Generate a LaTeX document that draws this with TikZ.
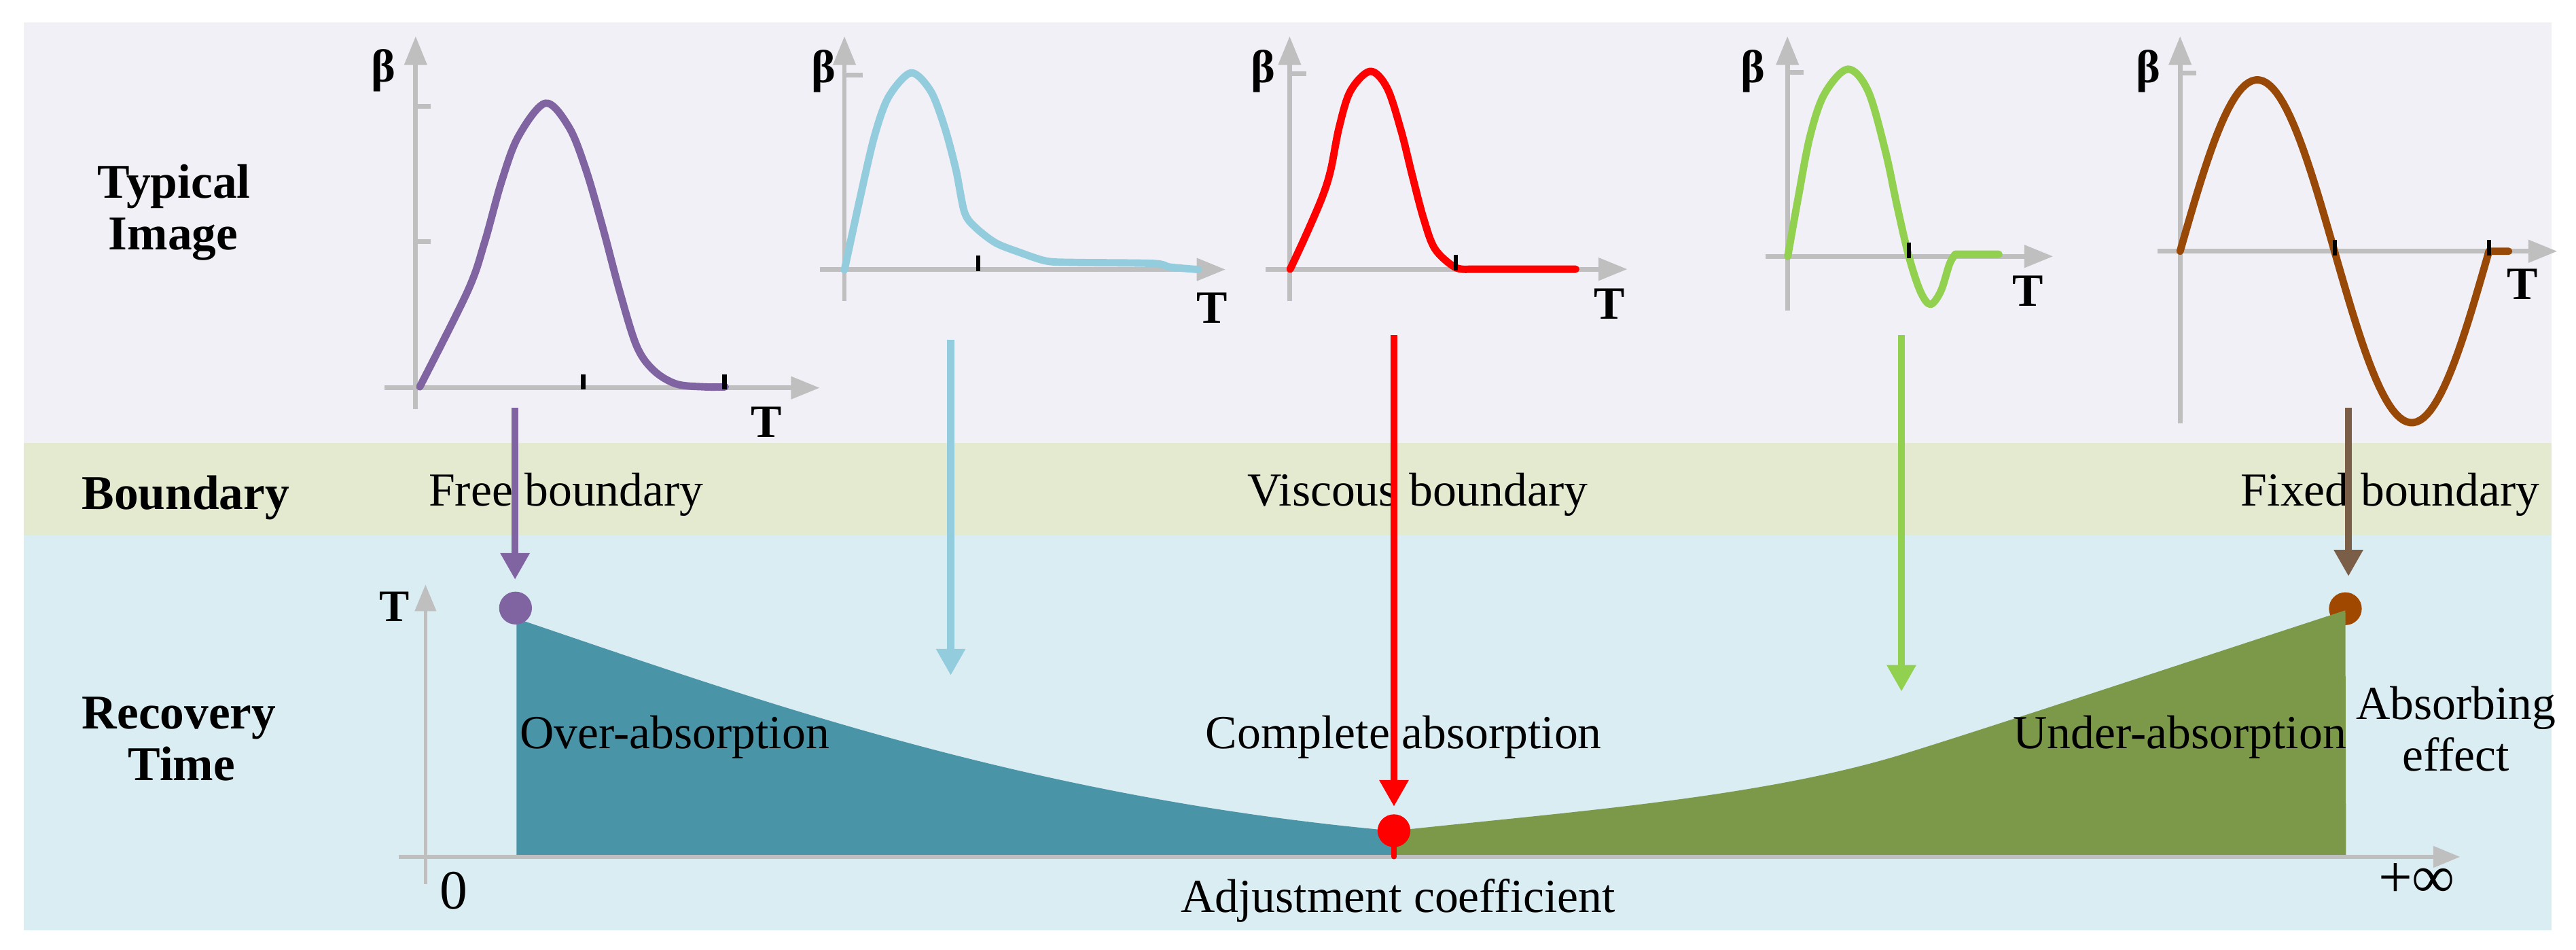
\documentclass[tikz,border=0pt]{standalone}
\usepackage{fontspec}
\setmainfont{Liberation Serif}
\usetikzlibrary{arrows.meta}
\definecolor{bgtop}{RGB}{242,240,247}
\definecolor{bgmid}{RGB}{228,234,208}
\definecolor{bgbot}{RGB}{218,237,243}
\definecolor{axgray}{RGB}{191,191,191}
\definecolor{cpurple}{RGB}{128,100,162}
\definecolor{cblue}{RGB}{147,205,221}
\definecolor{cred}{RGB}{255,0,0}
\definecolor{cgreen}{RGB}{146,208,80}
\definecolor{cbrown}{RGB}{152,72,7}
\definecolor{cbrownarr}{RGB}{122,94,72}
\definecolor{cbrowndot}{RGB}{160,72,0}
\definecolor{cteal}{RGB}{74,148,168}
\definecolor{colive}{RGB}{124,153,74}
\begin{document}
\begin{tikzpicture}[x=0.025cm,y=-0.025cm,
  gax/.style={draw=axgray,line width=2pt,-{Triangle[length=12.5pt,width=9.5pt]}},
  bax/.style={draw=axgray,line width=1.6pt,-{Triangle[length=11.5pt,width=9pt]}},
  gtick/.style={draw=axgray,line width=2pt},
  btick/.style={draw=black,line width=1.8pt},
  curve/.style={line width=3.2pt,line cap=round,line join=round},
  conn/.style={line width=3pt,-{Triangle[length=11.5pt,width=12pt]}},
  dot/.style={circle,minimum size=14.2pt,inner sep=0pt},
  lbl/.style={font=\fontsize{21}{22.5}\selectfont\bfseries,inner sep=0pt,anchor=base},
  txt/.style={font=\fontsize{20.5}{22.5}\selectfont,inner sep=0pt,anchor=base},
  axl/.style={font=\fontsize{20}{22}\selectfont\bfseries,inner sep=0pt},
]
\useasboundingbox (0,0) rectangle (1568,578);
% background bands
\fill[bgtop] (14.5,13.8) rectangle (1553,269.5);
\fill[bgmid] (14.5,269.5) rectangle (1553,326);
\fill[bgbot] (14.5,326) rectangle (1553,566);

% ---------- plot 1 (purple) ----------
\draw[gax] (253,249) -- (253,22);
\draw[gax] (234,236) -- (499,236);
\draw[gtick] (253,64.6) -- (262,64.6);
\draw[gtick] (253,147) -- (262,147);
\draw[curve,cpurple] plot[smooth,tension=0.55] coordinates {
 (255.5,235.4) (284.6,177.3) (294.9,147.7) (305.2,110.8) (315.5,83.1) (332,62.8)
 (346.4,77.5) (356.7,103.4) (366.9,138.5) (377.2,177.3) (387.5,210.5) (397.8,225.3)
 (411.5,233.6) (428.7,235.4) (441.4,235.4)};
\draw[btick] (355,228) -- (355,237);
\draw[btick] (441,228) -- (441,237);
\node[axl] (b1) at (233.2,43) {β};
\node[axl] (t1) at (466.4,256.7) {T};

% ---------- plot 2 (light blue) ----------
\draw[gax] (514,183) -- (514,22);
\draw[gax] (499,164) -- (746,164);
\draw[gtick] (514,45.6) -- (525,45.6);
\draw[curve,cblue] plot[smooth,tension=0.5] coordinates {
 (514.0,164.3) (523.6,120.0) (532.2,83.1) (540.8,59.1) (554.5,44.3) (566.5,55.4)
 (575.0,77.5) (581.9,103.4) (587.1,129.2) (593.9,138.5) (605.9,147.7) (619.6,153.2)
 (636.8,158.8) (653.9,159.7) (701.9,160.3) (712.2,162.5) (729.4,164)};
\draw[btick] (595.6,155.5) -- (595.6,165);
\node[axl] (b2) at (501.3,43.4) {β};
\node[axl] (t2) at (737.9,187.4) {T};

% ---------- plot 3 (red) ----------
\draw[gax] (785,183) -- (785,22);
\draw[gax] (770.5,163.8) -- (990.6,163.8);
\draw[gtick] (785,45) -- (795,45);
\draw[curve,cred] plot[smooth,tension=0.55] coordinates {
 (785.3,163.8) (794.5,144.0) (804.8,120.0) (810.0,103.4) (815.1,77.5) (822.0,55.4)
 (834.0,43.4) (844.3,53.5) (852.8,79.4) (859.7,107.1) (866.5,132.9) (873.4,151.4)
 (885.4,162.5) (894.0,163.8)} -- (959.1,163.8);
\draw[btick] (886,155) -- (886,164.5);
\node[axl] (b3) at (768.8,43.4) {β};
\node[axl] (t3) at (979.7,185) {T};

% ---------- plot 4 (green) ----------
\draw[gax] (1088,189) -- (1088,22);
\draw[gax] (1074.5,156) -- (1249.7,156);
\draw[gtick] (1088,44) -- (1098,44);
\draw[curve,cgreen] plot[smooth,tension=0.55] coordinates {
 (1088.2,156.0) (1094.6,120.0) (1101.7,83.1) (1110.5,57.2) (1124.7,42.1) (1137.1,55.4)
 (1147.7,92.3) (1154.8,125.6) (1161.9,156.0) (1168.9,177.3) (1175.0,185.2) (1181.3,177.3)
 (1186.7,160.6) (1190.2,154.7)} -- (1216.7,154.7);
\draw[btick] (1162,147.6) -- (1162,157);
\node[axl] (b4) at (1067,43.4) {β};
\node[axl] (t4) at (1234.5,177.2) {T};

% ---------- plot 5 (brown) ----------
\draw[gax] (1327,257.6) -- (1327,22);
\draw[gax] (1313.4,152.9) -- (1556.6,152.9);
\draw[gtick] (1327,44.3) -- (1337,44.3);
\draw[curve,cbrown] plot[domain=0:360,samples=91] ({1327+0.52222*\x},{152.9-104.3*sin(\x)}) -- (1527,152.9);
\draw[btick] (1421.3,146) -- (1421.3,155.4);
\draw[btick] (1515,146) -- (1515,155.4);
\node[axl] (b5) at (1307.7,43.4) {β};
\node[axl] (t5) at (1535.3,173) {T};

% ---------- recovery time chart ----------
\node[dot,fill=cbrowndot] (dF) at (1427.6,370.4) {};
\fill[cteal] (314.4,521.4) -- (314.4,376.4)
  .. controls (450,422) and (620,485) .. (848.4,505.6)
  -- (848.4,521.4) -- cycle;
\fill[colive] (848.4,521.4) -- (848.4,505.6)
  .. controls (950,494.4) and (1070,486) .. (1158,459)
  .. controls (1210,443) and (1340,400) .. (1427.6,371.4)
  -- (1428,521.4) -- cycle;
\coordinate (O) at (259,521.4);
\draw[bax] (259,538) -- (259,355.7);
\draw[bax] (242.8,521.4) -- (1497.4,521.4);
\node[dot,fill=cpurple] (dA) at (313.8,370) {};
\node[dot,fill=cred] (dV) at (848.5,505.5) {};
\draw[cred,line width=2.1pt,line cap=round] (dV.center) -- (dV |- O);

% ---------- row labels ----------
\node[lbl] (typ1) at (106,120.6) {Typical};
\node[lbl] (typ2) at (105.5,151.8) {Image};
\node[lbl] (bnd) at (113,310) {Boundary};
\node[lbl] (rec1) at (109,443.5) {Recovery};
\node[lbl] (rec2) at (110.6,475) {Time};

% ---------- texts ----------
\node[txt] (free) at (344.6,307.7) {Free boundary};
\node[txt] (visc) at (863,307.7) {Viscous boundary};
\node[txt] (fixd) at (1455,307.7) {Fixed boundary};
\node[txt] (over) at (410.7,455.3) {Over-absorption};
\node[txt] (comp) at (854.4,455.3) {Complete absorption};
\node[txt] (undr) at (1326.8,455.3) {Under-absorption};
\node[txt] (abs1) at (1495,437.5) {Absorbing};
\node[txt] (abs2) at (1495,469) {effect};
\node[txt] (adj) at (851,555) {Adjustment coefficient};
\node[txt,font=\fontsize{24}{24}\selectfont] (zero) at (276,553) {0};
\node[txt,font=\fontsize{26}{26}\selectfont] (pinf) at (1471,546) {+∞};
\node[lbl,font=\fontsize{19.5}{22}\selectfont\bfseries] (tT) at (240,378.3) {T};

% ---------- connectors ----------
\coordinate (sA) at (313.5,248);   \coordinate (eA) at (313.5,352.7);
\coordinate (sB) at (578.7,206.8); \coordinate (eB) at (578.7,411);
\coordinate (sV) at (848.5,204);   \coordinate (eV) at (848.5,490.8);
\coordinate (sG) at (1157.4,204);  \coordinate (eG) at (1157.4,420.8);
\coordinate (sF) at (1429.5,248.3);\coordinate (eF) at (1429.5,350.7);
\draw[conn,cpurple] (sA) -- (eA);
\draw[conn,cblue] (sB) -- (eB);
\draw[conn,cred] (sV) -- (eV);
\draw[conn,cgreen] (sG) -- (eG);
\draw[conn,cbrownarr] (sF) -- (eF);
\end{tikzpicture}
\end{document}
